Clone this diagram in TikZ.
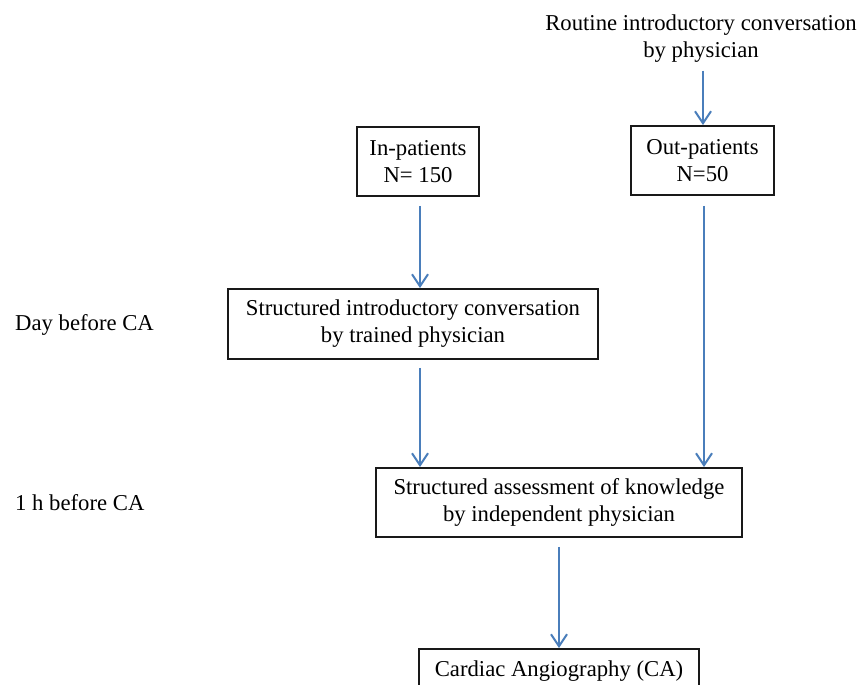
\documentclass[tikz,border=0pt]{standalone}
\usepackage{fontspec}
\setmainfont{Liberation Serif}
\usetikzlibrary{arrows.meta,calc}
\definecolor{arrowblue}{RGB}{74,126,187}
\begin{document}
\begin{tikzpicture}[x=1pt,y=-1pt,
  box/.style={draw=black!90,line width=1.9pt,inner sep=0pt,align=center,font=\fontsize{22.7}{27}\selectfont},
  plain/.style={inner sep=0pt,align=center,font=\fontsize{22.7}{27}\selectfont},
  flow/.style={draw=arrowblue,line width=2pt,-{Straight Barb[length=12pt,width=16pt]}}]
\useasboundingbox (0,0) rectangle (862,685);
\node[plain] (routine) at (701,38.5) {Routine introductory conversation\\by physician};
\node[box,minimum width=122pt,minimum height=69pt] (inp) at (418,161.5) {In-patients\\N= 150};
\node[box,minimum width=143pt,minimum height=69pt] (outp) at (702.5,160.5) {Out-patients\\N=50};
\node[box,minimum width=370pt,minimum height=70pt] (intro) at (413,324) {Structured introductory conversation\\by trained physician};
\node[box,minimum width=366pt,minimum height=69pt] (assess) at (559,502.5) {Structured assessment of knowledge\\by independent physician};
\node[box,minimum width=280pt,minimum height=44pt] (cardiac) at (559,671) {Cardiac Angiography (CA)};
\node[plain,anchor=west] (day) at (15,325) {Day before CA};
\node[plain,anchor=west] (hour) at (15,503) {1 h before CA};
\draw[flow,shorten <=8pt] ($(routine.south)+(2,0)$) -- ($(outp.north)+(0.5,0)$);
\draw[flow] ($(inp.south)+(2,9)$) -- ($(intro.north)+(7,0)$);
\draw[flow] ($(intro.south)+(7,8)$) -- ($(assess.north)+(-139,0)$);
\draw[flow] ($(outp.south)+(1.5,10)$) -- ($(assess.north)+(145,0)$);
\draw[flow] ($(assess.south)+(0,9)$) -- (cardiac.north);
\end{tikzpicture}
\end{document}
